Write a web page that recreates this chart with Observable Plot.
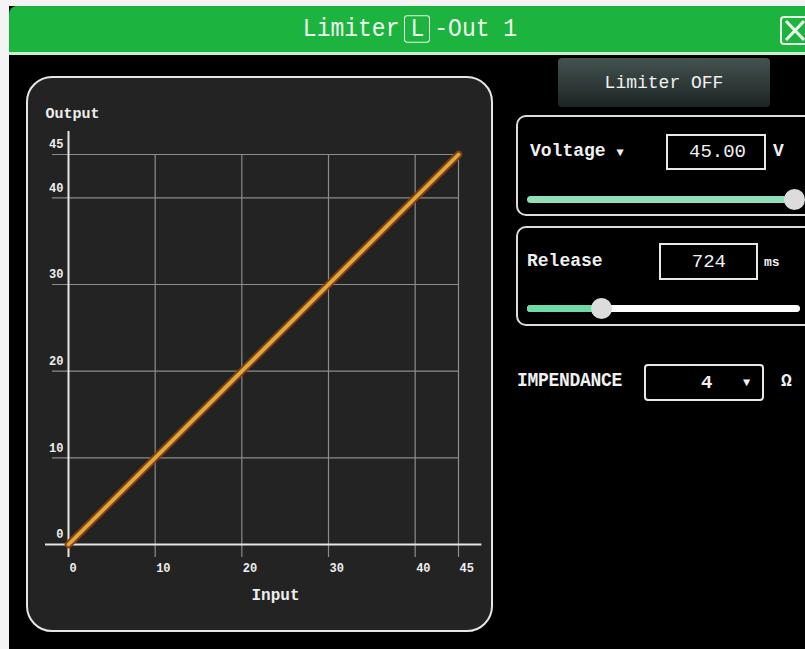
<!DOCTYPE html>
<html><head><meta charset="utf-8">
<script src="https://cdn.jsdelivr.net/npm/d3@7"></script>
<script src="https://cdn.jsdelivr.net/npm/@observablehq/plot@0.6"></script>
<style>
html,body{margin:0;padding:0;}
body{width:805px;height:649px;overflow:hidden;background:#f4f4f4;position:relative;font-family:"Liberation Mono",monospace;color:#f0f0f0;}
.abs{position:absolute;box-sizing:border-box;}
#win{left:9px;top:6px;right:0;bottom:0;background:#000;}
#bar{left:9px;top:6px;width:796px;height:49px;background:#1db33f;border-top-left-radius:8px;border-bottom:3px solid #c6eecf;}
#title{left:9px;top:6px;width:802px;height:46px;display:flex;align-items:center;justify-content:center;font-size:23px;color:#eef8ee;transform:scaleY(1.15);}
#title .box{display:inline-block;border:1.5px solid #e8f4e8;border-radius:3px;padding:0 5px;margin:0 4px 0 5px;line-height:22px;}
#close{left:780px;top:16px;width:30px;height:29px;border:2px solid #e8f6e8;border-radius:4px;}
#panel{left:26px;top:76px;width:467px;height:556px;background:#232323;border:2px solid #e6e6e6;border-radius:26px;}
#chart{left:26px;top:76px;}
#btn{left:558px;top:58px;width:212px;height:49px;border-radius:4px;background:linear-gradient(#44524f,#1d2524);display:flex;align-items:center;justify-content:center;font-size:18px;}
.grp{border:2px solid #dcdcdc;border-radius:10px;}
.lbl{font-size:18px;white-space:nowrap;font-weight:bold;}
.inp{border:2px solid #e8e8e8;font-size:19px;display:flex;align-items:center;}
.track{height:7px;border-radius:4px;}
.thumb{width:21px;height:21px;border-radius:50%;background:#dcdcdc;}
</style>
</head><body>
<div class="abs" id="win"></div>
<div class="abs" id="bar"></div>
<div class="abs" id="title"><span>Limiter</span><span class="box">L</span><span>-Out 1</span></div>
<div class="abs" id="close"><svg width="26" height="25"><path d="M4 3 L22 22 M22 3 L4 22" stroke="#eef8ee" stroke-width="3"/></svg></div>
<div class="abs" id="panel"></div>
<div class="abs" id="chart"></div>

<div class="abs" id="btn">Limiter OFF</div>

<div class="abs grp" style="left:516px;top:115px;width:300px;height:101px;"></div>
<div class="abs lbl" style="left:530px;top:141px;">Voltage <span style="font-size:12px;">▼</span></div>
<div class="abs inp" style="left:666px;top:134px;width:100px;height:36px;justify-content:flex-end;padding-right:18px;">45.00</div>
<div class="abs lbl" style="left:773px;top:141px;">V</div>
<div class="abs track" style="left:527px;top:196px;width:270px;background:#8fe0b9;"></div>
<div class="abs thumb" style="left:784px;top:189px;"></div>

<div class="abs grp" style="left:516px;top:226px;width:300px;height:100px;"></div>
<div class="abs lbl" style="left:527px;top:251px;">Release</div>
<div class="abs inp" style="left:659px;top:243px;width:99px;height:37px;justify-content:flex-end;padding-right:30px;">724</div>
<div class="abs lbl" style="left:764px;top:255px;font-size:13px;">ms</div>
<div class="abs track" style="left:527px;top:305px;width:273px;background:#fff;"></div>
<div class="abs track" style="left:527px;top:305px;width:75px;background:#6fd9a8;"></div>
<div class="abs thumb" style="left:591px;top:298px;"></div>

<div class="abs lbl" style="left:517px;top:370px;font-size:18px;letter-spacing:-0.3px;transform:scaleY(1.15);transform-origin:left center;">IMPENDANCE</div>
<div class="abs inp" style="left:644px;top:364px;width:120px;height:37px;border-radius:4px;font-weight:bold;"><span style="position:absolute;left:55px;">4</span><span style="position:absolute;left:97px;font-size:12px;">▼</span></div>
<div class="abs lbl" style="left:781px;top:371px;">Ω</div>

<script>
// Data
const inputValues = [0, 45];
const outputValues = [0, 45];
const xTicks = [0, 10, 20, 30, 40, 45];
const yTicks = [0, 10, 20, 30, 40, 45];
const xTickLabels = ["0", "10", "20", "30", "40", "45"];
const yTickLabels = ["0", "10", "20", "30", "40", "45"];
const xLabel = "Input";
const yLabel = "Output";

// axis extents (data units, beyond the domain)
const xAxisExtent = [-2.65, 47.7];
const yAxisExtent = [-1.5, 47.65];
const hGridExtent = [-1.85, 45];
const vGridExtent = [-1.5, 45];

const pts = inputValues.map((x, i) => ({input: x, output: outputValues[i]}));
const font = "Liberation Mono";

const chart = Plot.plot({
  width: 467, height: 556,
  marginLeft: 42, marginRight: 35, marginTop: 78, marginBottom: 88,
  x: {domain: [0, 45], axis: null},
  y: {domain: [0, 45], axis: null},
  style: {background: "transparent", overflow: "visible", fontFamily: font},
  marks: [
    Plot.ruleX(xTicks.filter(d => d > 0), {y1: vGridExtent[0], y2: vGridExtent[1], stroke: "#8c8c8c", strokeWidth: 1.2}),
    Plot.ruleY(yTicks.filter(d => d > 0), {x1: hGridExtent[0], x2: hGridExtent[1], stroke: "#8c8c8c", strokeWidth: 1.2}),
    Plot.ruleY([0], {x1: xAxisExtent[0], x2: xAxisExtent[1], stroke: "#e6e6e6", strokeWidth: 2}),
    Plot.ruleX([0], {y1: yAxisExtent[0], y2: yAxisExtent[1], stroke: "#e6e6e6", strokeWidth: 2}),
    Plot.line(pts, {x: "input", y: "output", stroke: "#7a4212", strokeWidth: 7.5}),
    Plot.line(pts, {x: "input", y: "output", stroke: "#e3a63a", strokeWidth: 3.8}),
    Plot.text(xTicks, {x: d => d, y: () => 0, text: (d, i) => xTickLabels[i], textAnchor: "start", dx: 1, dy: 24, fill: "#eeeeee", fontSize: 12, fontWeight: "bold", fontFamily: font}),
    Plot.text(yTicks, {x: () => 0, y: d => d, text: (d, i) => yTickLabels[i], textAnchor: "end", dx: -5, dy: -10, fill: "#eeeeee", fontSize: 12, fontWeight: "bold", fontFamily: font}),
    Plot.text([yLabel], {frameAnchor: "top-left", textAnchor: "start", dx: -23, dy: -47, fill: "#eeeeee", fontSize: 15, fontWeight: "bold", fontFamily: font}),
    Plot.text([xLabel], {frameAnchor: "bottom", dx: 12, dy: 55, fill: "#eeeeee", fontSize: 16, fontWeight: "bold", fontFamily: font})
  ]
});
document.getElementById("chart").appendChild(chart);
</script>
</body></html>
